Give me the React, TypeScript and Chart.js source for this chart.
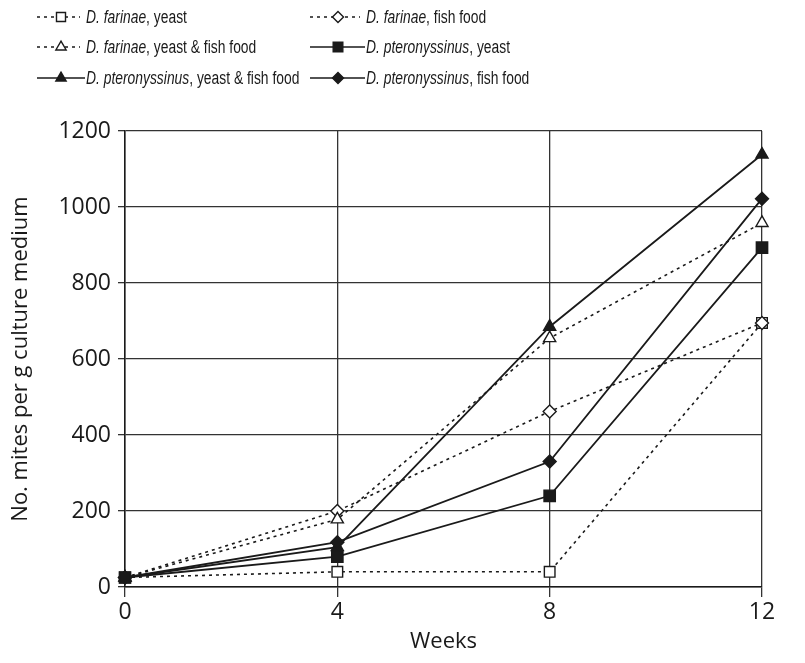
import React, { useEffect, useRef } from "react";
import { Chart, registerables } from "chart.js";
import { drawPoint } from "chart.js/helpers";

Chart.register(...registerables);

// Sampling times (weeks)
const weeks = [0, 4, 8, 12];

// Mite counts per g culture medium
const farinaeYeast = [25, 40, 40, 695];
const farinaeFishFood = [25, 200, 462, 695];
const farinaeYeastFish = [25, 178, 655, 958];
const pteroYeast = [25, 80, 240, 893];
const pteroYeastFish = [25, 105, 685, 1138];
const pteroFishFood = [25, 118, 330, 1022];

const yTicks = [0, 200, 400, 600, 800, 1000, 1200];
const xTicks = [0, 4, 8, 12];

const species = ["D. farinae", "D. farinae", "D. farinae", "D. pteronyssinus", "D. pteronyssinus", "D. pteronyssinus"];
const diets = [", yeast", ", fish food", ", yeast & fish food", ", yeast", ", yeast & fish food", ", fish food"];

const FONT = '"Open Sans", "Noto Sans", sans-serif';
const INK = "#1a1a1a";
const DASH = [3, 4];

type Series = {
  values: number[];
  style: "rect" | "rectRot" | "triangle";
  filled: boolean;
  dashed: boolean;
  order: number;
  radius: number;
};

const series: Series[] = [
  { values: farinaeYeast, style: "rect", filled: false, dashed: true, order: 5, radius: 7.5 },
  { values: farinaeFishFood, style: "rectRot", filled: false, dashed: true, order: 4, radius: 6.5 },
  { values: farinaeYeastFish, style: "triangle", filled: false, dashed: true, order: 3, radius: 7 },
  { values: pteroYeast, style: "rect", filled: true, dashed: false, order: 0, radius: 8 },
  { values: pteroYeastFish, style: "triangle", filled: true, dashed: false, order: 2, radius: 7 },
  { values: pteroFishFood, style: "rectRot", filled: true, dashed: false, order: 1, radius: 6.5 },
];

// Legend: two columns, three rows, drawn above the plot
const legendPlugin = {
  id: "mitesLegend",
  afterDraw(chart: any) {
    const ctx = chart.ctx as CanvasRenderingContext2D;
    const colX = [29, 302];
    const sampleW = [48, 55];
    const rowY = [9, 39, 70];
    series.forEach((s, i) => {
      const col = i % 2;
      const row = Math.floor(i / 2);
      const x0 = colX[col];
      const y = rowY[row];
      const w0 = sampleW[col];
      const lineEnd = s.dashed ? x0 + w0 - 5 : x0 + w0;
      const markX = x0 + Math.round(w0 / 2);
      ctx.save();
      ctx.strokeStyle = INK;
      ctx.lineWidth = 1.6;
      ctx.setLineDash(s.dashed ? DASH : []);
      ctx.beginPath();
      ctx.moveTo(x0, y);
      ctx.lineTo(lineEnd, y);
      ctx.stroke();
      ctx.setLineDash([]);
      ctx.fillStyle = s.filled ? INK : "#ffffff";
      ctx.strokeStyle = INK;
      ctx.lineWidth = 1.4;
      drawPoint(ctx, { pointStyle: s.style, radius: s.radius * 0.85, borderWidth: 1.4, rotation: 0 } as any, markX, y);
      ctx.restore();

      // text, slightly condensed
      ctx.save();
      ctx.translate(x0 + w0 + 1, y);
      ctx.scale(0.77, 1);
      ctx.fillStyle = INK;
      ctx.textBaseline = "middle";
      ctx.textAlign = "left";
      ctx.font = 'italic 18px "Liberation Sans", Arial, sans-serif';
      ctx.fillText(species[i], 0, 1);
      const w = ctx.measureText(species[i]).width;
      ctx.font = '18px "Liberation Sans", Arial, sans-serif';
      ctx.fillText(diets[i], w, 1);
      ctx.restore();
    });
  },
};

export default function App() {
  const ref = useRef<HTMLCanvasElement | null>(null);

  useEffect(() => {
    if (!ref.current) return;
    const datasets = series.map((s, i) => ({
      label: species[i] + diets[i],
      data: weeks.map((w, k) => ({ x: w, y: s.values[k] })),
      borderColor: INK,
      borderWidth: s.dashed ? 1.6 : 1.8,
      borderDash: s.dashed ? DASH : [],
      backgroundColor: s.filled ? INK : "#ffffff",
      pointStyle: s.style,
      pointRadius: s.radius,
      pointBorderWidth: 1.4,
      pointBorderColor: INK,
      pointBackgroundColor: s.filled ? INK : "#ffffff",
      fill: false,
      tension: 0,
      order: s.order,
      clip: false as any,
    }));

    const chart = new Chart(ref.current, {
      type: "line",
      data: { datasets },
      plugins: [legendPlugin],
      options: {
        animation: false,
        responsive: false,
        devicePixelRatio: 1,
        layout: { padding: { top: 123, right: 35, left: 0, bottom: 0 } },
        plugins: { legend: { display: false }, tooltip: { enabled: false } },
        scales: {
          x: {
            type: "linear",
            min: 0,
            max: 12,
            afterBuildTicks: (scale: any) => {
              scale.ticks = xTicks.map((v) => ({ value: v }));
            },
            afterFit: (scale: any) => {
              scale.height = 68;
            },
            ticks: { color: INK, font: { family: FONT, size: 23 }, padding: 2, maxRotation: 0, callback: (v: any) => String(v) },
            grid: { color: "#333", lineWidth: 1.3, tickLength: 10, drawTicks: true },
            border: { color: INK, width: 1.5 },
            title: { display: true, text: "Weeks", color: INK, font: { family: FONT, size: 22 }, padding: { top: 0, bottom: 0 } },
          },
          y: {
            type: "linear",
            min: 0,
            max: 1200,
            afterBuildTicks: (scale: any) => {
              scale.ticks = yTicks.map((v) => ({ value: v }));
            },
            afterFit: (scale: any) => {
              scale.width = 117;
            },
            ticks: { color: INK, font: { family: FONT, size: 23 }, padding: 7, callback: (v: any) => String(v) },
            grid: { color: "#333", lineWidth: 1.3, tickLength: 7, drawTicks: true },
            border: { color: INK, width: 1.5 },
            title: { display: true, text: "No. mites per g culture medium", color: INK, font: { family: FONT, size: 22 }, padding: { top: 0, bottom: 0 } },
          },
        },
      },
    });
    return () => chart.destroy();
  }, []);

  return (
    <div style={{ width: 789, height: 647 }}>
      <canvas ref={ref} width={789} height={647} style={{ display: "block" }} />
    </div>
  );
}
